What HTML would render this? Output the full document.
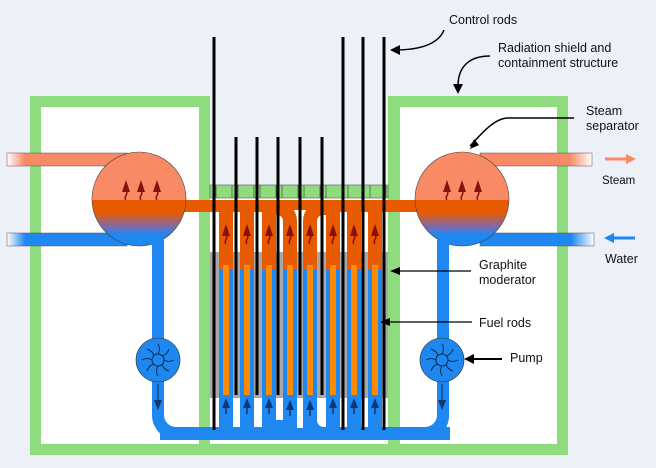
<!DOCTYPE html>
<html><head><meta charset="utf-8"><style>
html,body{margin:0;padding:0;background:#eef0f7;}
svg{display:block}
text{font-family:"Liberation Sans",sans-serif;font-size:12.5px;fill:#111}
</style></head><body>
<svg width="656" height="468" viewBox="0 0 656 468">
<defs>
<linearGradient id="drum" x1="0" y1="0" x2="0" y2="1" gradientUnits="objectBoundingBox">
<stop offset="0" stop-color="#f98a66"/><stop offset="0.51" stop-color="#f98a66"/>
<stop offset="0.51" stop-color="#e85a00"/><stop offset="0.64" stop-color="#e85a00"/>
<stop offset="0.8" stop-color="#7a6ab0"/><stop offset="0.88" stop-color="#1e88f0"/><stop offset="1" stop-color="#1e88f0"/>
</linearGradient>
<linearGradient id="fadeL" x1="0" x2="1"><stop offset="0" stop-color="#fff"/><stop offset="0.15" stop-color="#f98a66"/></linearGradient>
<linearGradient id="fadeLb" x1="0" x2="1"><stop offset="0" stop-color="#fff"/><stop offset="0.15" stop-color="#1e88f0"/></linearGradient>
<linearGradient id="fadeR" x1="0" x2="1"><stop offset="0.8" stop-color="#f98a66"/><stop offset="1" stop-color="#fff"/></linearGradient>
<linearGradient id="fadeRb" x1="0" x2="1"><stop offset="0.8" stop-color="#1e88f0"/><stop offset="1" stop-color="#fff"/></linearGradient>
<g id="wa"><path d="M0 14c-3-3 3-6 0-9" fill="none" stroke="#8a1010" stroke-width="1.5"/><path d="M-4 6l4-12 4 12z" fill="#8a1010"/></g>
<g id="ba"><path d="M0 -8v14" stroke="#0a3a70" stroke-width="1.5"/><path d="M-4 0l4-10 4 10z" fill="#0a3a70"/></g>
<g id="imp" fill="none" stroke="#0a2a50" stroke-width="1">
<circle r="6"/>
<path d="M0-6q3-5 0-10M6 0q5 3 10 0M0 6q-3 5 0 10M-6 0q-5-3-10 0M4-4q5-1 7-7M4 4q1 5 7 7M-4 4q-5 1-7 7M-4-4q-1-5-7-7"/>
</g>
</defs>
<!-- containment -->
<path d="M30 96H210V444H388V96H568V455H30Z" fill="#8fdc7f"/>
<rect x="41" y="107" width="158" height="337" fill="#fff"/>
<rect x="400" y="107" width="157" height="337" fill="#fff"/>
<rect x="210" y="198" width="178" height="54" fill="#fff"/>
<rect x="210" y="398" width="178" height="46" fill="#fff"/>
<rect x="210" y="252" width="178" height="146" fill="#a8a8a8"/>
<!-- top green strip -->
<rect x="210" y="185" width="178" height="13" fill="#8fdc7f" stroke="#555" stroke-width="0.6"/>
<g stroke="#555" stroke-width="0.8"><path d="M216 185v13M232 185v13M238 185v13M254 185v13M260 185v13M276 185v13M282 185v13M298 185v13M304 185v13M320 185v13M326 185v13M342 185v13M348 185v13M364 185v13M370 185v13M386 185v13"/></g>
<!-- header orange -->
<rect x="180" y="200" width="240" height="12" fill="#e85a00"/>
<rect x="283" y="210" width="34" height="40" fill="#fff"/>
<!-- bottom header blue -->
<rect x="160" y="427" width="290" height="13" fill="#1e88f0"/>
<rect x="283" y="398" width="34" height="30" fill="#fff"/>
<!-- channels -->
<g>
<g fill="#1e88f0">
<rect x="219" y="250" width="14" height="178"/><rect x="240" y="250" width="14" height="178"/><rect x="262" y="250" width="14" height="178"/>
<path d="M283 250h14v178h-14z"/>
<path d="M303 250h14v178h-14z"/>
<rect x="326" y="250" width="14" height="178"/><rect x="347" y="250" width="14" height="178"/><rect x="368" y="250" width="14" height="178"/>
</g>
<g fill="#e85a00">
<rect x="219" y="210" width="14" height="60"/><rect x="240" y="210" width="14" height="60"/><rect x="262" y="210" width="14" height="60"/>
<path d="M270 200h6a21 21 0 0 1 21 21v49h-14v-49a6 6 0 0 0 -6 -6h-7z"/>
<path d="M330 200h-6a21 21 0 0 0 -21 21v49h14v-49a6 6 0 0 1 6 -6h7z"/>
<rect x="326" y="210" width="14" height="60"/><rect x="347" y="210" width="14" height="60"/><rect x="368" y="210" width="14" height="60"/>
</g>
<g fill="#ff8a00">
<rect x="223" y="265" width="6" height="130"/><rect x="244" y="265" width="6" height="130"/><rect x="266" y="265" width="6" height="130"/>
<rect x="287" y="265" width="6" height="130"/><rect x="307" y="265" width="6" height="130"/>
<rect x="330" y="265" width="6" height="130"/><rect x="351" y="265" width="6" height="130"/><rect x="372" y="265" width="6" height="130"/>
</g>
<path d="M283 420a20 20 0 0 1 -20 20v-13a7 7 0 0 0 7-7z" fill="#1e88f0"/>
<path d="M297 400v20a20 20 0 0 1 -20 20h-10v-13h10a7 7 0 0 0 6-7v-20z" fill="#1e88f0"/>
<path d="M303 400v20a20 20 0 0 0 20 20h10v-13h-10a7 7 0 0 1 -6-7v-20z" fill="#1e88f0"/>
</g>
<!-- flow arrows in channels -->
<use href="#wa" x="226" y="230"/><use href="#wa" x="247" y="230"/><use href="#wa" x="269" y="230"/><use href="#wa" x="290" y="230"/>
<use href="#wa" x="310" y="230"/><use href="#wa" x="333" y="230"/><use href="#wa" x="354" y="230"/><use href="#wa" x="375" y="230"/>
<use href="#ba" x="226" y="408"/><use href="#ba" x="247" y="408"/><use href="#ba" x="269" y="408"/><use href="#ba" x="290" y="410"/>
<use href="#ba" x="310" y="410"/><use href="#ba" x="333" y="408"/><use href="#ba" x="354" y="408"/><use href="#ba" x="375" y="408"/>
<!-- left side pipes/drum -->
<rect x="7" y="153" width="120" height="13" fill="url(#fadeL)" stroke="#555" stroke-width="0.5"/>
<rect x="7" y="233" width="120" height="13" fill="url(#fadeLb)" stroke="#555" stroke-width="0.5"/>
<circle cx="139" cy="199" r="47" fill="url(#drum)" stroke="#444" stroke-width="0.6"/>
<path d="M152 240h12v175a12 12 0 0 0 12 12v13a25 25 0 0 1 -24-24z" fill="#1e88f0"/>
<circle cx="158" cy="360" r="22" fill="#1e88f0" stroke="#333" stroke-width="0.6"/>
<use href="#imp" x="158" y="360"/>
<!-- right side -->
<rect x="480" y="153" width="112" height="13" fill="url(#fadeR)" stroke="#555" stroke-width="0.5"/>
<rect x="480" y="233" width="114" height="13" fill="url(#fadeRb)" stroke="#555" stroke-width="0.5"/>
<circle cx="462" cy="199" r="47" fill="url(#drum)" stroke="#444" stroke-width="0.6"/>
<path d="M437 240h12v176a24 24 0 0 1 -24 24v-13a12 12 0 0 0 12-12z" fill="#1e88f0"/>
<circle cx="442" cy="360" r="22" fill="#1e88f0" stroke="#333" stroke-width="0.6"/>
<use href="#imp" x="442" y="360"/>
<use href="#wa" x="126" y="186"/><use href="#wa" x="141" y="186"/><use href="#wa" x="157" y="186"/>
<use href="#wa" x="447" y="186"/><use href="#wa" x="462" y="186"/><use href="#wa" x="478" y="186"/>
<g stroke="#0a3a70" stroke-width="1.2"><path d="M158 384v20M442 384v20"/></g>
<g fill="#0a3a70"><path d="M154 400l4 10 4-10z"/><path d="M438 400l4 10 4-10z"/></g>
<!-- control rods -->
<g stroke="#000" stroke-width="3">
<line x1="214" y1="37" x2="214" y2="430"/><line x1="343" y1="37" x2="343" y2="430"/>
<line x1="363" y1="37" x2="363" y2="430"/><line x1="384" y1="37" x2="384" y2="430"/>
<line x1="236" y1="137" x2="236" y2="395"/><line x1="257" y1="137" x2="257" y2="395"/>
<line x1="278" y1="137" x2="278" y2="395"/><line x1="300" y1="137" x2="300" y2="395"/>
<line x1="322" y1="137" x2="322" y2="395"/>
</g>
<!-- labels -->
<text x="449" y="24">Control rods</text>
<path d="M444 30c-6 15 -25 20 -50 20" fill="none" stroke="#000" stroke-width="1.5"/><path d="M390 50l10-5v10z"/>
<text x="498" y="52">Radiation shield and</text>
<text x="498" y="67">containment structure</text>
<path d="M490 56c-20 0-32 10-32 30" fill="none" stroke="#000" stroke-width="1.5"/><path d="M453 84l5 10 5-10z"/>
<text x="586" y="115">Steam</text><text x="586" y="130">separator</text>
<path d="M574 118h-66c-15 0-30 20-38 28" fill="none" stroke="#000" stroke-width="1.5"/><path d="M470 149l4-10 5 6z"/>
<text x="602" y="184" style="font-size:11.5px">Steam</text>
<path d="M605 159h22" stroke="#f98a66" stroke-width="3"/><path d="M636 159l-10-5v10z" fill="#f98a66"/>
<text x="605" y="263">Water</text>
<path d="M635 238h-25" stroke="#1e88f0" stroke-width="3"/><path d="M604 238l10-5v10z" fill="#1e88f0"/>
<text x="479" y="269">Graphite</text><text x="479" y="284">moderator</text>
<path d="M471 271h-72" stroke="#000" stroke-width="1.2"/><path d="M390 271l10-4v8z"/>
<text x="479" y="327">Fuel rods</text>
<path d="M472 322h-86" stroke="#000" stroke-width="1.2"/><path d="M380 322l10-4v8z"/>
<text x="510" y="362">Pump</text>
<path d="M502 359h-30" stroke="#000" stroke-width="2"/><path d="M464 359l10-5v10z"/>
</svg>
</body></html>
